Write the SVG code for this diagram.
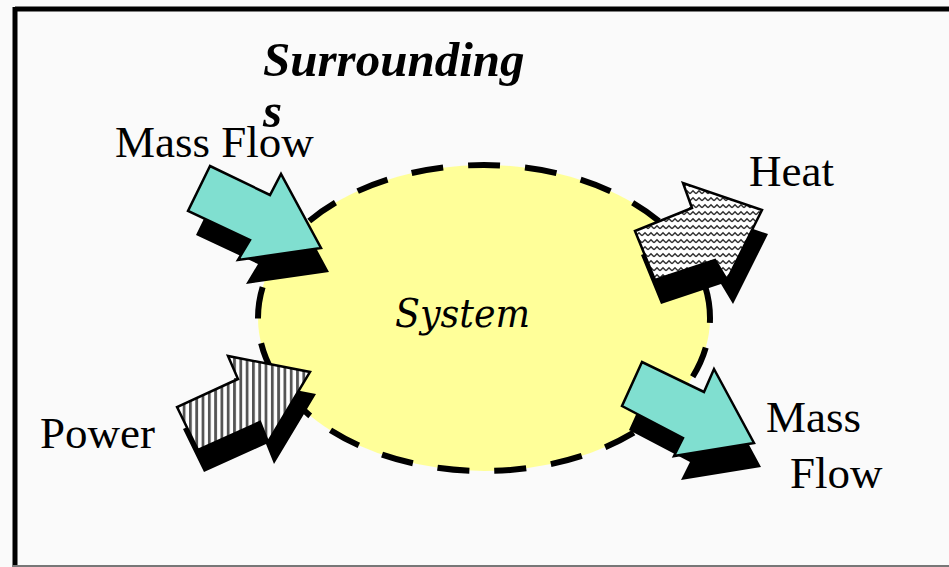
<svg xmlns="http://www.w3.org/2000/svg" width="949" height="567" viewBox="0 0 949 567">
  <defs>
    <pattern id="zig" patternUnits="userSpaceOnUse" width="6" height="7">
      <rect width="6" height="7" fill="#ffffff"/>
      <polyline points="0,4.8 3,1.8 6,4.8" fill="none" stroke="#333" stroke-width="1.5"/>
    </pattern>
    <pattern id="stripes" patternUnits="userSpaceOnUse" width="6.3" height="10">
      <rect width="6.3" height="10" fill="#ffffff"/>
      <rect x="0" width="2.8" height="10" fill="#555"/>
    </pattern>
    <style>
      .lbl { font-family: "Liberation Serif", "Times New Roman", serif; font-size: 45px; fill: #000; }
      .sur { font-family: "Liberation Serif", "Times New Roman", serif; font-size: 49px; font-weight: bold; font-style: italic; }
      .shadow { fill: #000; }
      .teal { fill: #80dfd0; stroke: #000; stroke-width: 2.5; stroke-linejoin: miter; }
      .zig { fill: url(#zig); stroke: #000; stroke-width: 2.5; }
      .stripe { fill: url(#stripes); stroke: #000; stroke-width: 2.5; }
    </style>
  </defs>

  <rect width="949" height="567" fill="#fafafa"/>

  <g id="frame">
    <line x1="15" y1="9" x2="949" y2="9" stroke="#000" stroke-width="5"/>
    <line x1="15" y1="7" x2="15" y2="567" stroke="#000" stroke-width="5"/>
    <line x1="13" y1="566" x2="949" y2="566" stroke="#777" stroke-width="2"/>
  </g>

  <g id="surroundings">
    <text class="sur" x="263" y="76">Surrounding</text>
    <text class="sur" x="263" y="127">s</text>
  </g>

  <g id="system">
    <ellipse cx="484" cy="318" rx="226" ry="153" fill="#ffff99" stroke="#000" stroke-width="6" stroke-dasharray="32 25" stroke-dashoffset="27"/>
    <text x="395" y="327" textLength="135" lengthAdjust="spacingAndGlyphs" font-family="DejaVu Serif, serif" font-size="40" font-style="italic">System</text>
  </g>

  <g id="connectors">
    <g id="mass-flow-in">
      <polygon class="shadow" transform="translate(8,24)" points="210,166 188,211 250,240 238,260 321,248 281,174 270,195"/>
      <polygon class="teal" points="210,166 188,211 250,240 238,260 321,248 281,174 270,195"/>
    </g>
    <g id="heat-out">
      <polygon class="shadow" transform="translate(6,24)" points="635,231 655,280 715,260 727,280 762,210 683,183 692,208"/>
      <polygon class="zig" points="635,231 655,280 715,260 727,280 762,210 683,183 692,208"/>
    </g>
    <g id="power-in">
      <polygon class="shadow" transform="translate(6,22)" points="177,407 198,450 260,422 268,442 310,372 228,356 238,379"/>
      <polygon class="stripe" points="177,407 198,450 260,422 268,442 310,372 228,356 238,379"/>
    </g>
    <g id="mass-flow-out">
      <polygon class="shadow" transform="translate(7,24)" points="642,362 622,406 683,438 674,456 754,443 714,369 704,392"/>
      <polygon class="teal" points="642,362 622,406 683,438 674,456 754,443 714,369 704,392"/>
    </g>
  </g>

  <g id="label-mass-flow-in">
    <text class="lbl" x="115" y="157">Mass Flow</text>
  </g>
  <g id="label-heat">
    <text class="lbl" x="749" y="186">Heat</text>
  </g>
  <g id="label-power">
    <text class="lbl" x="40" y="448">Power</text>
  </g>
  <g id="label-mass-flow-out">
    <text class="lbl" x="766" y="432">Mass</text>
    <text class="lbl" x="790" y="488">Flow</text>
  </g>
</svg>
